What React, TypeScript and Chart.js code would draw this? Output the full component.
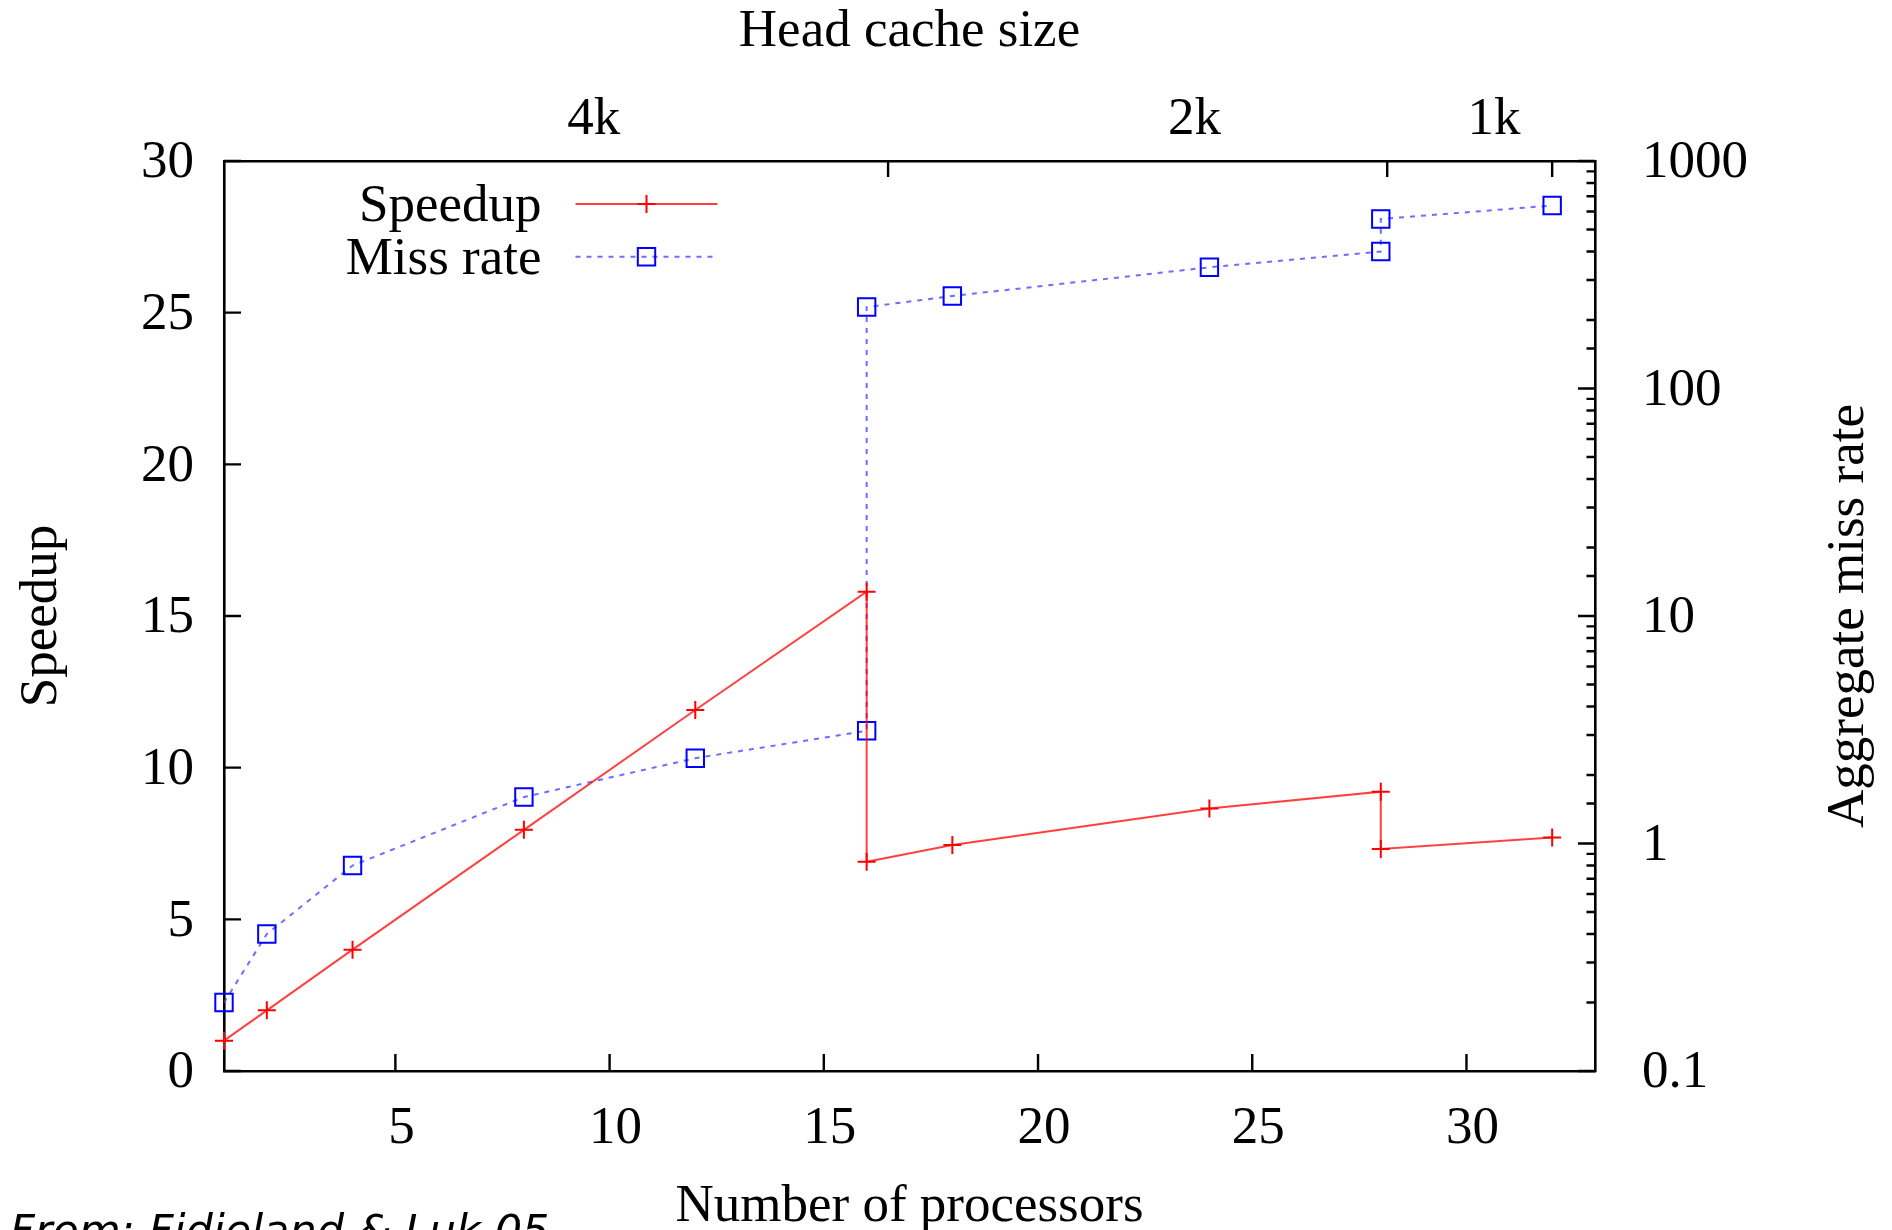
import React, { useEffect, useRef } from "react";
import { Chart, registerables } from "chart.js";

Chart.register(...registerables);

// ---- data ----
const processorsSpeedup = [1, 2, 4, 8, 12, 16, 16, 18, 24, 28, 28, 32];
const speedupValues = [1.0, 2.0, 4.0, 7.95, 11.9, 15.8, 6.9, 7.45, 8.65, 9.21, 7.32, 7.7];
const processorsMiss = [1, 2, 4, 8, 12, 16, 16, 18, 24, 28, 28, 32];
const missRateValues = [0.2, 0.4, 0.8, 1.6, 2.37, 3.13, 228, 255, 341, 400, 556, 637];
const xTickValues = [5, 10, 15, 20, 25, 30];
const cacheSizeLabels = ["4k", "2k", "1k"];
const cacheSizeLabelPos = [9.63, 23.65, 30.64];
const cacheSizeTickPos = [16.5, 28.15, 32];
const missRateTickLabels = [0.1, 1, 10, 100, 1000];

const SERIF = '"Liberation Serif", "Times New Roman", serif';
const FONT_SIZE = 53;

const isPow10 = (v: number) => {
  const lg = Math.log10(v);
  return Math.abs(lg - Math.round(lg)) < 1e-6;
};

const frameTicks = {
  id: "frameTicks",
  afterDraw(chart: any) {
    const { ctx, chartArea: ca, scales } = chart;
    ctx.save();
    ctx.strokeStyle = "#000";
    ctx.lineWidth = 2.4;
    ctx.lineCap = "butt";
    ctx.beginPath();
    scales.x.ticks.forEach((t: any) => {
      const p = scales.x.getPixelForValue(t.value);
      ctx.moveTo(p, ca.bottom);
      ctx.lineTo(p, ca.bottom - 17);
    });
    scales.y.ticks.forEach((t: any) => {
      const p = scales.y.getPixelForValue(t.value);
      ctx.moveTo(ca.left, p);
      ctx.lineTo(ca.left + 17, p);
    });
    scales.y2.ticks.forEach((t: any) => {
      const len = isPow10(t.value) ? 17 : 8.5;
      const p = scales.y2.getPixelForValue(t.value);
      ctx.moveTo(ca.right, p);
      ctx.lineTo(ca.right - len, p);
    });
    cacheSizeTickPos.forEach((v) => {
      const p = scales.x2.getPixelForValue(v);
      ctx.moveTo(p, ca.top);
      ctx.lineTo(p, ca.top + 16);
    });
    ctx.stroke();
    ctx.restore();
  },
};

const insideLegend = {
  id: "insideLegend",
  afterDatasetsDraw(chart: any) {
    const { ctx, chartArea: ca } = chart;
    const textRight = ca.left + 317.5;
    const rows = [ca.top + 43, ca.top + 95.7];
    chart.data.datasets.forEach((ds: any, i: number) => {
      const y = rows[i];
      ctx.save();
      ctx.font = `${FONT_SIZE}px ${SERIF}`;
      ctx.fillStyle = "#000";
      ctx.textAlign = "right";
      ctx.textBaseline = "alphabetic";
      ctx.fillText(ds.label, textRight, y + 17);
      ctx.strokeStyle = ds.borderColor;
      ctx.lineWidth = ds.borderWidth;
      ctx.setLineDash(ds.borderDash || []);
      ctx.beginPath();
      ctx.moveTo(textRight + 34, y);
      ctx.lineTo(textRight + 176, y);
      ctx.stroke();
      ctx.setLineDash([]);
      const cx = textRight + 105;
      ctx.strokeStyle = ds.pointBorderColor;
      ctx.lineWidth = ds.pointBorderWidth;
      ctx.beginPath();
      if (ds.pointStyle === "cross") {
        const r = ds.pointRadius;
        ctx.moveTo(cx - r, y);
        ctx.lineTo(cx + r, y);
        ctx.moveTo(cx, y - r);
        ctx.lineTo(cx, y + r);
      } else {
        const s = ds.pointRadius * Math.SQRT1_2;
        ctx.rect(cx - s, y - s, 2 * s, 2 * s);
      }
      ctx.stroke();
      ctx.restore();
    });
  },
};

const extraText = {
  id: "extraText",
  afterDraw(chart: any) {
    const { ctx, chartArea: ca, scales } = chart;
    ctx.save();
    ctx.fillStyle = "#000";
    ctx.font = `${FONT_SIZE}px ${SERIF}`;
    ctx.textAlign = "center";
    ctx.textBaseline = "alphabetic";
    ctx.translate(scales.y2.right - 29, (ca.top + ca.bottom) / 2);
    ctx.rotate(-Math.PI / 2);
    ctx.fillText("Aggregate miss rate", 0, 0);
    ctx.restore();

    ctx.save();
    ctx.fillStyle = "#000";
    ctx.font = 'italic 43px "DejaVu Sans", Verdana, sans-serif';
    ctx.textAlign = "left";
    ctx.textBaseline = "alphabetic";
    ctx.fillText("From: Fidjeland & Luk 05", 10, 1245);
    ctx.restore();
  },
};

export default function App() {
  const ref = useRef<HTMLCanvasElement>(null);

  useEffect(() => {
    document.body.style.margin = "0";
    document.body.style.overflow = "hidden";
    const tickFont = { family: SERIF, size: FONT_SIZE, lineHeight: 1 };
    const titleFont = { family: SERIF, size: FONT_SIZE, lineHeight: 1 };
    const border = { display: true, color: "#000", width: 2.6 };
    const grid = { display: false, drawTicks: false };

    const chart = new Chart(ref.current as HTMLCanvasElement, {
      type: "line",
      data: {
        datasets: [
          {
            label: "Speedup",
            data: processorsSpeedup.map((x, i) => ({ x, y: speedupValues[i] })),
            xAxisID: "x",
            yAxisID: "y",
            borderColor: "rgba(255,0,0,0.75)",
            borderWidth: 2,
            pointStyle: "cross",
            pointRadius: 9,
            pointBorderColor: "#ff0000",
            pointBorderWidth: 2,
            pointBackgroundColor: "rgba(0,0,0,0)",
            fill: false,
            tension: 0,
            clip: false,
          } as any,
          {
            label: "Miss rate",
            data: processorsMiss.map((x, i) => ({ x, y: missRateValues[i] })),
            xAxisID: "x",
            yAxisID: "y2",
            borderColor: "rgba(60,60,255,0.75)",
            borderWidth: 2,
            borderDash: [5, 6],
            pointStyle: "rect",
            pointRadius: 12.3,
            pointBorderColor: "#0000ff",
            pointBorderWidth: 2,
            pointBackgroundColor: "rgba(0,0,0,0)",
            fill: false,
            tension: 0,
            clip: false,
          } as any,
        ],
      },
      options: {
        responsive: false,
        animation: false,
        devicePixelRatio: 1,
        events: [],
        layout: { padding: 0 },
        plugins: {
          legend: { display: false },
          tooltip: { enabled: false },
          title: { display: false },
        },
        scales: {
          x: {
            type: "linear",
            position: "bottom",
            min: 1,
            max: 33,
            afterBuildTicks: (s: any) => {
              s.ticks = xTickValues.map((v) => ({ value: v }));
            },
            afterFit: (s: any) => {
              s.height = 159;
            },
            grid,
            border,
            ticks: {
              font: tickFont,
              color: "#000",
              padding: 32,
              labelOffset: 6,
              maxRotation: 0,
              autoSkip: false,
            },
            title: {
              display: true,
              text: "Number of processors",
              font: { family: SERIF, size: FONT_SIZE, lineHeight: 0.8 },
              color: "#000",
              padding: { top: 0, bottom: 1.5 },
            },
          },
          x2: {
            type: "linear",
            position: "top",
            min: 1,
            max: 33,
            afterBuildTicks: (s: any) => {
              s.ticks = cacheSizeLabelPos.map((v) => ({ value: v }));
            },
            afterFit: (s: any) => {
              s.height = 161;
            },
            grid,
            border,
            ticks: {
              font: tickFont,
              color: "#000",
              padding: 14.5,
              maxRotation: 0,
              autoSkip: false,
              callback: (_v: any, i: number) => cacheSizeLabels[i],
            },
            title: {
              display: true,
              text: "Head cache size",
              font: titleFont,
              color: "#000",
              padding: { top: 5.5, bottom: 0 },
            },
          },
          y: {
            type: "linear",
            position: "left",
            min: 0,
            max: 30,
            afterFit: (s: any) => {
              s.width = 224;
            },
            grid,
            border,
            ticks: {
              stepSize: 5,
              font: tickFont,
              color: "#000",
              padding: 30,
              labelOffset: 2.5,
              autoSkip: false,
            },
            title: {
              display: true,
              text: "Speedup",
              font: titleFont,
              color: "#000",
              padding: { top: 15.5, bottom: 0 },
            },
          },
          y2: {
            type: "logarithmic",
            position: "right",
            min: 0.1,
            max: 1000,
            afterFit: (s: any) => {
              s.width = 297;
            },
            grid,
            border,
            ticks: {
              font: tickFont,
              color: "#000",
              padding: 47,
              labelOffset: 2.5,
              autoSkip: false,
              callback: (v: any) => {
                const n = Number(v);
                const hit = missRateTickLabels.find((m) => Math.abs(m - n) / m < 1e-6);
                return hit !== undefined ? String(hit) : "";
              },
            },
          },
        },
      } as any,
      plugins: [frameTicks, insideLegend, extraText],
    });
    return () => chart.destroy();
  }, []);

  return (
    <canvas
      ref={ref}
      width={1892}
      height={1230}
      style={{ display: "block", width: 1892, height: 1230 }}
    />
  );
}
